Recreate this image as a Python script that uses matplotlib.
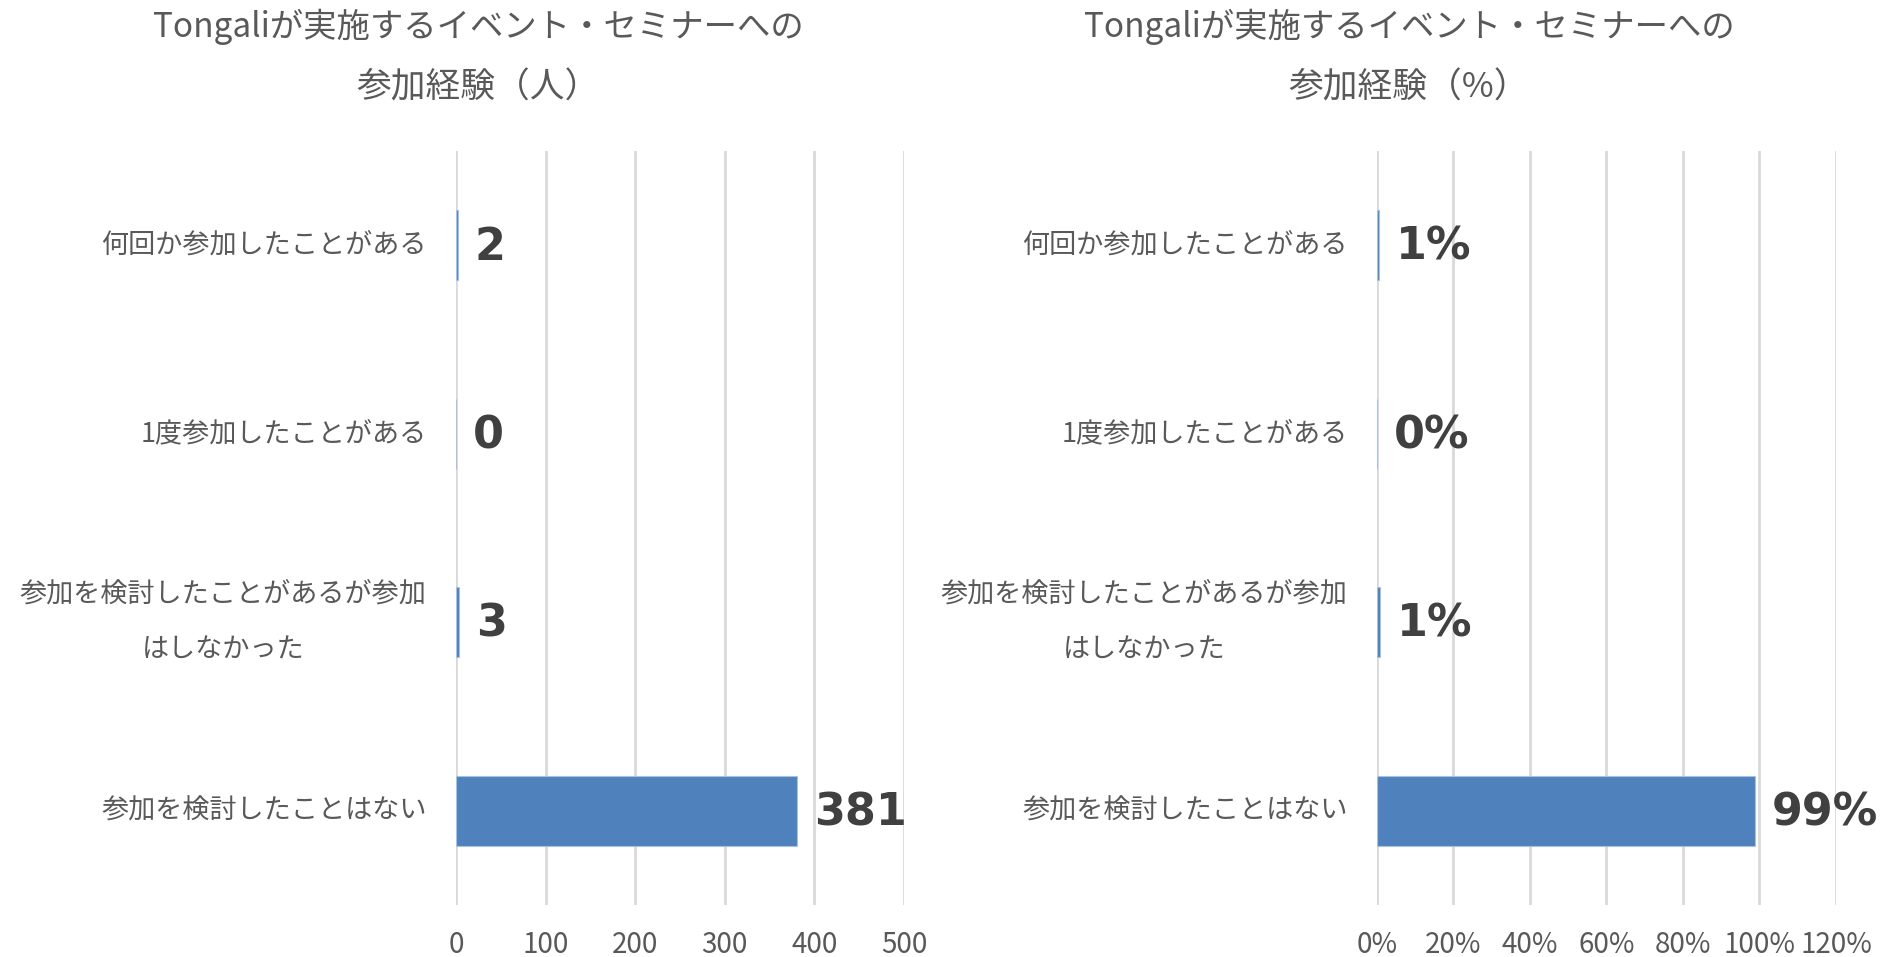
import numpy as np
import matplotlib
matplotlib.use('Agg')
import matplotlib.pyplot as plt

plt.rcParams['font.family'] = ['Noto Sans CJK JP', 'DejaVu Sans']

categories = ['何回か参加したことがある', '1度参加したことがある',
              '参加を検討したことがあるが参加\nはしなかった', '参加を検討したことはない']
counts = [2, 0, 3, 381]
shares = [0.005, 0.0, 0.008, 0.987]
share_labels = ['1%', '0%', '1%', '99%']

count_ticks = [0, 100, 200, 300, 400, 500]
share_ticks = [0, 0.2, 0.4, 0.6, 0.8, 1.0, 1.2]
share_ticklabels = ['0%', '20%', '40%', '60%', '80%', '100%', '120%']

bar_col = '#4f81bd'
grid_col = '#d9d9d9'
text_col = '#595959'
val_col = '#404040'

W, H = 1890, 957
fig = plt.figure(figsize=(W / 100, H / 100), dpi=100)

def draw(ax, vals, labels, xmax, ticks, ticklabels, offset):
    y = np.arange(len(categories))
    ax.barh(y, vals, height=0.37, color=bar_col, edgecolor='#a9c1e0', linewidth=0.8, zorder=3)
    ax.set_ylim(len(categories) - 0.5, -0.5)
    ax.set_xlim(0, xmax)
    ax.set_xticks(ticks)
    ax.set_xticklabels(ticklabels)
    ax.set_yticks(y)
    ax.set_yticklabels(categories)
    ax.tick_params(axis='y', length=0, pad=21, labelsize=19.5, labelcolor=text_col)
    ax.tick_params(axis='x', length=0, pad=18, labelsize=20, labelcolor=text_col)
    for t in ax.get_yticklabels():
        t.set_multialignment('center')
        t.set_linespacing(2.35)
        t.set_verticalalignment('center')
    ax.grid(axis='x', color=grid_col, linewidth=2, zorder=0)
    ax.set_axisbelow(True)
    for s in ax.spines.values():
        s.set_visible(False)
    for yi, v, lab in zip(y, vals, labels):
        ax.text(v + offset, yi + 0.01, lab, va='center', ha='left', fontsize=32,
                fontweight='bold', color=val_col, family=['DejaVu Sans'], zorder=4)

ax1 = fig.add_axes([456 / W, 52 / H, 448 / W, 754 / H])
draw(ax1, counts, [str(c) for c in counts], 500, count_ticks,
     [str(t) for t in count_ticks], 19)

ax2 = fig.add_axes([1377 / W, 52 / H, 459 / W, 754 / H])
draw(ax2, shares, share_labels, 1.2, share_ticks, share_ticklabels, 0.045)

for cx, unit in [(478 / W, '（人）'), (1409 / W, '（%）')]:
    fig.text(cx, 1 - 27 / H, 'Tongaliが実施するイベント・セミナーへの', ha='center', va='center',
             fontsize=24, color=text_col)
    fig.text(cx, 1 - 88 / H, '参加経験' + unit, ha='center', va='center',
             fontsize=25, color=text_col)

fig.savefig('out.png', dpi=100, facecolor='white')
